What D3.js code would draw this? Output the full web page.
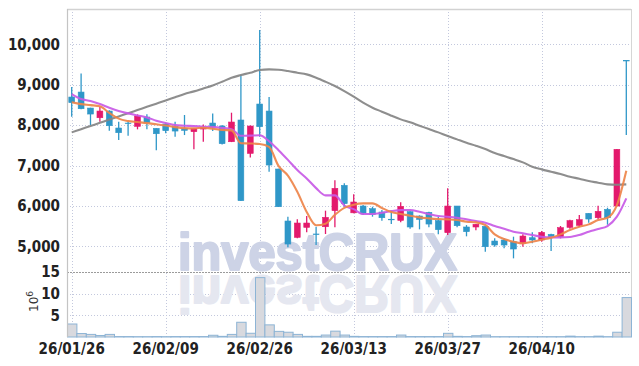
<!DOCTYPE html>
<html>
<head>
<meta charset="utf-8">
<script src="https://cdn.jsdelivr.net/npm/d3@7"></script>
<style>
  body { margin: 0; background: #fff; }
  svg { display: block; }
</style>
</head>
<body>
<div id="canvas"></div>
<script>
const dates = [
  "26/01/26", "26/01/27", "26/01/28", "26/01/29", "26/01/30",
  "26/02/02", "26/02/03", "26/02/04", "26/02/05", "26/02/06",
  "26/02/09", "26/02/10", "26/02/11", "26/02/12", "26/02/13",
  "26/02/19", "26/02/20", "26/02/23", "26/02/24", "26/02/25",
  "26/02/26", "26/02/27", "26/03/03", "26/03/04", "26/03/05",
  "26/03/06", "26/03/09", "26/03/10", "26/03/11", "26/03/12",
  "26/03/13", "26/03/16", "26/03/17", "26/03/18", "26/03/19",
  "26/03/20", "26/03/23", "26/03/24", "26/03/25", "26/03/26",
  "26/03/27", "26/03/30", "26/03/31", "26/04/01", "26/04/02",
  "26/04/03", "26/04/06", "26/04/07", "26/04/08", "26/04/09",
  "26/04/10", "26/04/13", "26/04/14", "26/04/15", "26/04/16",
  "26/04/17", "26/04/20", "26/04/21", "26/04/22", "26/04/23"
];
const labelDates = ["26/01/26", "26/02/09", "26/02/26", "26/03/13", "26/03/27", "26/04/10"];

const open = [
  8695, 8818, 8422, 8183, 8348, 7928, 8050, 7969, 8200, 7919,
  8027, 7961, 7920, 7837, 7903, 8051, 7977, 7589, 8126, 7300,
  8522, 8348, 6913, 5626, 5222, 5469, 5305, 5485, 5882, 6508,
  5829, 5997, 5931, 5849, 5670, 5642, 5857, 5750, 5840, 5634,
  5337, 5997, 5478, 5478, 5494, 5131, 5156, 5114, 5073, 5213,
  5156, 5296, 5238, 5469, 5518, 5816, 5708, 5915, 5997, 9602
];
const high = [
  8942, 9280, 8430, 8455, 8370, 8084, 8084, 8266, 8266, 7925,
  8060, 8084, 8250, 7925, 8018, 8290, 8000, 8307, 9239, 7990,
  10353, 8695, 6920, 5733, 5667, 5750, 5485, 5882, 6632, 6558,
  6286, 6020, 5980, 5898, 5882, 6088, 5870, 5766, 5857, 5725,
  6434, 6000, 5525, 5550, 5500, 5197, 5197, 5238, 5296, 5345,
  5378, 5310, 5502, 5659, 5774, 5816, 6005, 5955, 7410, 9602
];
const low = [
  8208, 8390, 8002, 8084, 7861, 7630, 7738, 7895, 7895, 7375,
  7800, 7713, 7754, 7400, 7589, 7853, 7523, 7580, 6120, 7201,
  7713, 6847, 5975, 4974, 5200, 5345, 5032, 5304, 5469, 5980,
  5820, 5774, 5733, 5634, 5551, 5593, 5437, 5420, 5469, 5296,
  5280, 5469, 5247, 5395, 4866, 4990, 4949, 4702, 4990, 5073,
  5114, 4883, 5197, 5436, 5477, 5585, 5667, 5535, 5990, 7754
];
const close = [
  8555, 8406, 8274, 8348, 7985, 7812, 8035, 8225, 8060, 7787,
  7862, 7853, 7870, 7919, 7952, 7952, 7540, 8076, 6129, 7977,
  7960, 7012, 5980, 5056, 5576, 5576, 5290, 5716, 6434, 6055,
  6096, 5815, 5791, 5708, 5660, 5989, 5478, 5667, 5551, 5412,
  5997, 5510, 5362, 5544, 4990, 5032, 5032, 4933, 5254, 5156,
  5345, 5238, 5461, 5634, 5659, 5675, 5865, 5708, 7400, 9590
];
// volume in millions of shares
const volume = [
  3.0, 0.8, 0.6, 0.35, 0.6, 0.1, 0.1, 0.08, 0.08, 0.1,
  0.08, 0.1, 0.1, 0.1, 0.1, 0.4, 0.15, 0.6, 3.4, 0.86,
  13.7, 2.8, 1.3, 1.1, 0.6, 0.15, 0.15, 0.45, 1.35, 0.45,
  0.15, 0.1, 0.1, 0.1, 0.1, 0.45, 0.1, 0.1, 0.1, 0.1,
  0.85, 0.15, 0.1, 0.3, 0.45, 0.08, 0.08, 0.08, 0.08, 0.08,
  0.08, 0.08, 0.08, 0.2, 0.08, 0.08, 0.2, 0.08, 1.1, 9.1
];
const ma5 = [
  8565, 8520, 8495, 8465, 8300, 8160, 8100, 8075, 8050, 8020,
  7990, 7950, 7925, 7920, 7935, 7910, 7880, 7870, 7550, 7545,
  7532, 7460, 6990, 6750, 6350, 5850, 5520, 5560, 5780, 5950,
  6030, 6063, 6063, 5950, 5850, 5800, 5758, 5716, 5692, 5675,
  5667, 5651, 5609, 5593, 5527, 5296, 5180, 5114, 5073, 5114,
  5164, 5213, 5296, 5403, 5485, 5543, 5651, 5708, 6022, 6871
];
const ma20 = [
  8769, 8645, 8596, 8520, 8430, 8350, 8290, 8240, 8190, 8110,
  8050, 8000, 7985, 7975, 7960, 7950, 7930, 7900, 7735, 7740,
  7750, 7600, 7380, 7140, 6889, 6680, 6440, 6260, 6260, 6010,
  5920, 5800, 5800, 5830, 5870, 5895, 5898, 5857, 5799, 5750,
  5733, 5708, 5667, 5626, 5585, 5502, 5436, 5362, 5321, 5279,
  5238, 5222, 5222, 5230, 5280, 5362, 5428, 5502, 5733, 6187
];
const ma60 = [
  7820, 7899, 7978, 8057, 8136, 8215, 8294, 8373, 8452, 8531,
  8610, 8690, 8769, 8835, 8909, 8983, 9074, 9173, 9239, 9297,
  9363, 9380, 9371, 9338, 9297, 9256, 9173, 9074, 8967, 8843,
  8703, 8555, 8431, 8332, 8233, 8142, 8068, 7985, 7903, 7820,
  7730, 7647, 7565, 7490, 7408, 7309, 7234, 7160, 7078, 6970,
  6904, 6847, 6789, 6723, 6673, 6616, 6575, 6533, 6525, 6533
];
const priceTicks = [5000, 6000, 7000, 8000, 9000, 10000];
const volumeTicks = [5, 10, 15];

const width = 639;
const height = 366;
const left = 67, right = 631;
const priceTop = 9, priceBottom = 272, volBottom = 337;

const svg = d3.select("#canvas").append("svg")
  .attr("width", width)
  .attr("height", height);

const x = d3.scaleBand().domain(dates).range([left, right]);
const cx = (d) => x(d) + x.bandwidth() / 2;
const y = d3.scaleLinear().domain([4364, 10874]).range([priceBottom, priceTop]);
const vy = d3.scaleLinear().domain([0, 15]).range([volBottom, priceBottom]);

const labelFont = "'Liberation Sans Narrow', 'DejaVu Sans Condensed', sans-serif";

svg.append("defs").append("clipPath").attr("id", "plot")
  .append("rect").attr("x", left).attr("y", priceTop)
  .attr("width", right - left).attr("height", volBottom - priceTop);

// grid
const grid = svg.append("g").attr("stroke", "#c3c8dd").attr("stroke-dasharray", "1,2");
grid.selectAll(".hp").data(priceTicks).join("line")
  .attr("x1", left).attr("x2", right)
  .attr("y1", (d) => Math.round(y(d)) + 0.5).attr("y2", (d) => Math.round(y(d)) + 0.5);
grid.selectAll(".hv").data(volumeTicks.slice(0, 2)).join("line")
  .attr("x1", left).attr("x2", right)
  .attr("y1", (d) => Math.round(vy(d)) + 0.5).attr("y2", (d) => Math.round(vy(d)) + 0.5);
grid.selectAll(".vx").data(labelDates).join("line")
  .attr("x1", (d) => Math.round(cx(d)) + 0.5).attr("x2", (d) => Math.round(cx(d)) + 0.5)
  .attr("y1", priceTop).attr("y2", volBottom);

// watermark with reflection
const wm = svg.append("g").attr("clip-path", "url(#plot)")
  .style("font-family", "'Liberation Sans', Arial, sans-serif")
  .style("font-weight", "bold").style("font-size", "52px");
wm.append("text").attr("x", 178).attr("y", 270)
  .attr("textLength", 279).attr("lengthAdjust", "spacingAndGlyphs")
  .attr("fill", "#cdd3e6").attr("stroke", "#cdd3e6").attr("stroke-width", 2.2)
  .attr("stroke-linejoin", "round")
  .text("investCRUX");
wm.append("text").attr("x", 178).attr("y", 270)
  .attr("transform", "translate(0,546) scale(1,-1)")
  .attr("textLength", 279).attr("lengthAdjust", "spacingAndGlyphs")
  .attr("fill", "#e5e7f0").attr("stroke", "#e5e7f0").attr("stroke-width", 2.2)
  .attr("stroke-linejoin", "round")
  .text("investCRUX");

// panel separator and frame
svg.append("line").attr("x1", left).attr("x2", right)
  .attr("y1", priceBottom + 0.5).attr("y2", priceBottom + 0.5)
  .attr("stroke", "#9b9b9b").attr("stroke-dasharray", "2,1");
svg.append("line").attr("x1", left).attr("x2", right)
  .attr("y1", priceTop + 0.5).attr("y2", priceTop + 0.5)
  .attr("stroke", "#d2d2d2").attr("stroke-width", 1.5);
svg.append("line").attr("x1", right + 0.5).attr("x2", right + 0.5)
  .attr("y1", priceTop).attr("y2", volBottom)
  .attr("stroke", "#d6d6d6");

// volume bars
svg.append("g").selectAll("rect").data(dates).join("rect")
  .attr("x", (d) => x(d) + 0.5)
  .attr("width", x.bandwidth())
  .attr("y", (d, i) => vy(volume[i]))
  .attr("height", (d, i) => volBottom - vy(volume[i]))
  .attr("fill", "#d8d9de")
  .attr("stroke", "#8db4d5")
  .attr("stroke-width", 1);

// candles
const up = "#e3196c", down = "#2f97c8";
const candles = svg.append("g").attr("clip-path", "url(#plot)")
  .selectAll("g").data(dates).join("g")
  .attr("fill", (d, i) => close[i] >= open[i] ? up : down)
  .attr("stroke", (d, i) => close[i] >= open[i] ? up : down);
candles.append("line")
  .attr("x1", (d) => cx(d)).attr("x2", (d) => cx(d))
  .attr("y1", (d, i) => y(high[i])).attr("y2", (d, i) => y(low[i]))
  .attr("stroke-width", 1.3);
const bw = x.bandwidth() * 0.62;
candles.append("rect")
  .attr("x", (d) => cx(d) - bw / 2)
  .attr("width", bw)
  .attr("y", (d, i) => y(Math.max(open[i], close[i])))
  .attr("height", (d, i) => Math.max(0.6, Math.abs(y(open[i]) - y(close[i]))))
  .attr("stroke-width", 0.6);

// moving averages
const line = (vals) => d3.line().x((d) => cx(d)).y((d, i) => y(vals[i]))
  .curve(d3.curveMonotoneX)(dates);
[[ma60, "#848484"], [ma20, "#c85ae6"], [ma5, "#ee844a"]].forEach(([vals, col]) => {
  svg.append("path").attr("d", line(vals))
    .attr("fill", "none").attr("stroke", col)
    .attr("stroke-width", 2.1).attr("stroke-opacity", 0.92);
});

// left axis line
svg.append("line").attr("x1", left + 0.5).attr("x2", left + 0.5)
  .attr("y1", priceTop).attr("y2", volBottom)
  .attr("stroke", "#c4c4c4").attr("stroke-width", 1.2);

// axes
const yAxis = svg.append("g").attr("transform", `translate(${left},0)`)
  .call(d3.axisLeft(y).tickValues(priceTicks).tickFormat(d3.format(",")).tickSize(0).tickPadding(7));
const vAxis = svg.append("g").attr("transform", `translate(${left},0)`)
  .call(d3.axisLeft(vy).tickValues(volumeTicks).tickSize(0).tickPadding(7));
const xAxis = svg.append("g").attr("transform", `translate(0,${volBottom})`)
  .call(d3.axisBottom(x).tickValues(labelDates).tickSize(0).tickPadding(6));
[yAxis, vAxis, xAxis].forEach((g) => {
  g.select(".domain").remove();
  g.selectAll("text")
    .style("font-family", labelFont)
    .style("font-size", "15px")
    .style("font-weight", "bold")
    .attr("fill", "#222");
});

// volume unit
const unit = svg.append("text")
  .attr("transform", "translate(38,312) rotate(-90)")
  .style("font-family", "'DejaVu Sans', sans-serif")
  .style("font-size", "12px")
  .attr("fill", "#333");
unit.append("tspan").text("10");
unit.append("tspan").attr("dy", -5).style("font-size", "9px").text("6");
</script>
</body>
</html>
